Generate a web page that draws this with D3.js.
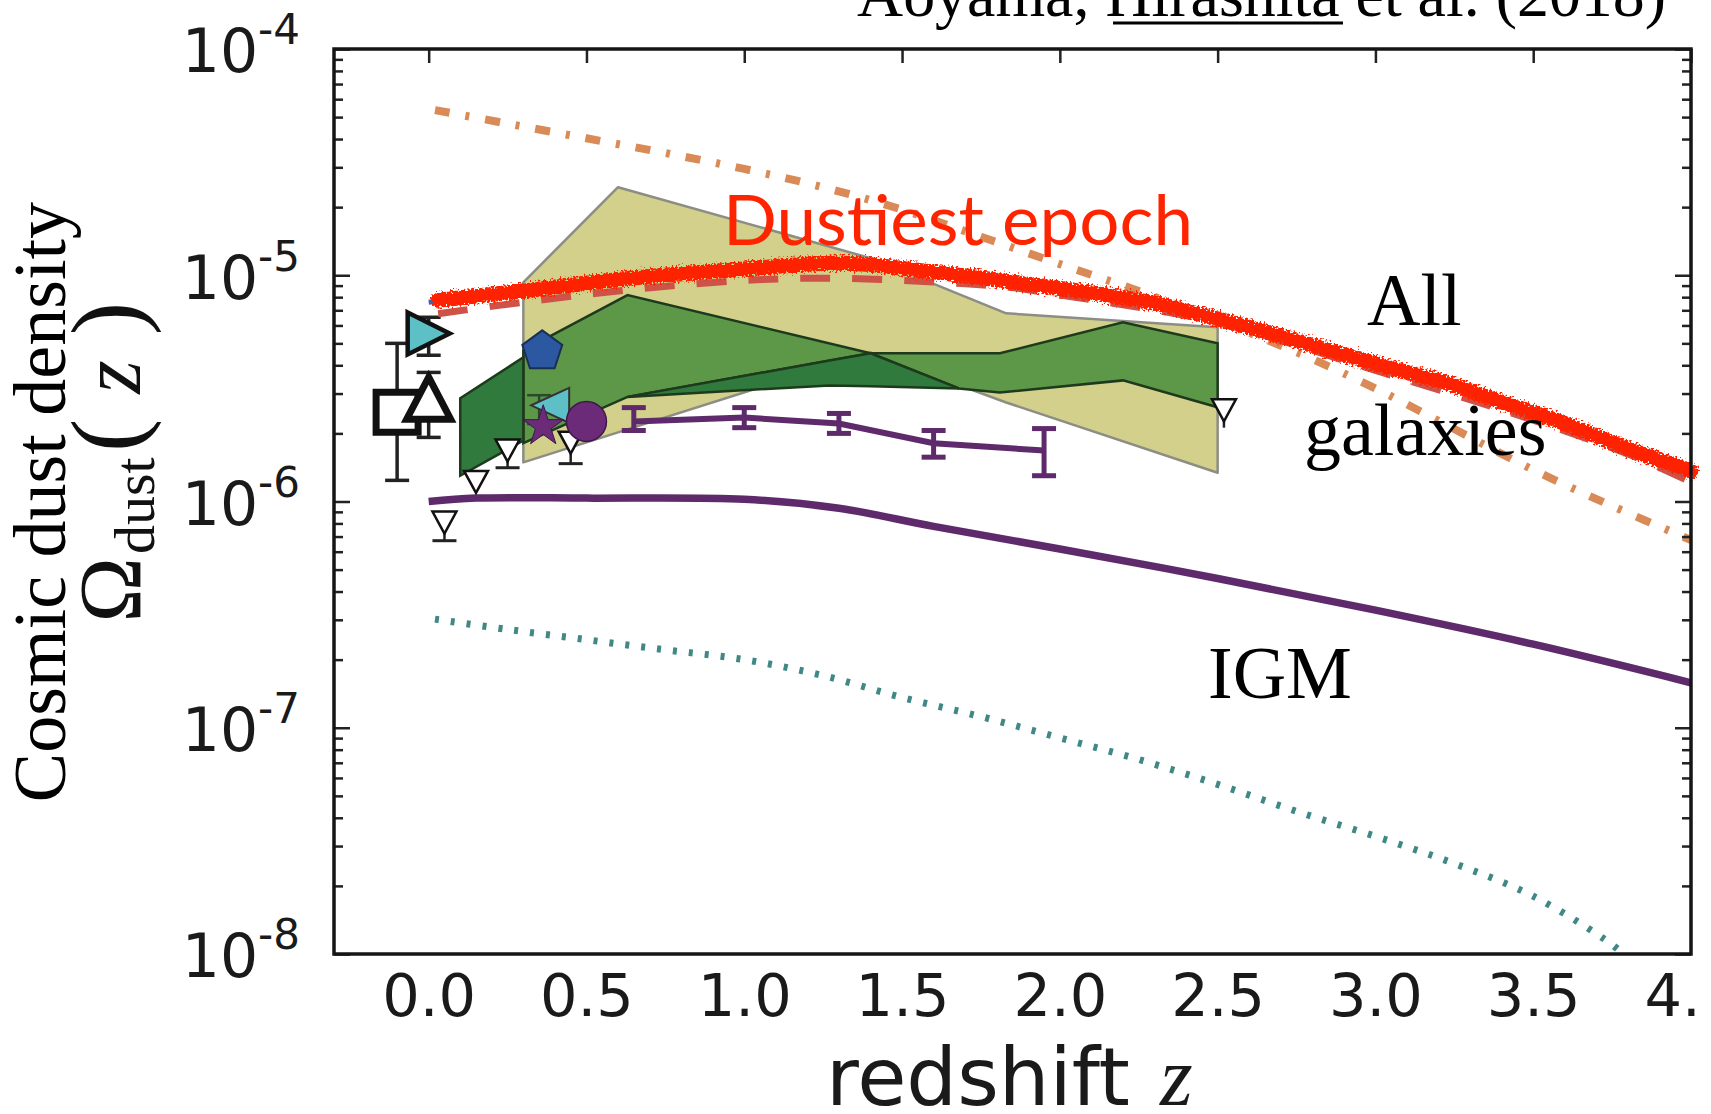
<!DOCTYPE html>
<html><head><meta charset="utf-8">
<script src="https://cdn.jsdelivr.net/npm/d3@7"></script>
<style>
html,body{margin:0;padding:0;background:#fff;}
svg{display:block;}
</style></head><body>
<svg id="chart" width="1711" height="1114"></svg>
<script>
// ---------- axis ticks ----------
const xTicks = [0, 0.5, 1, 1.5, 2, 2.5, 3, 3.5, 4];
const xTickLabels = ["0.0", "0.5", "1.0", "1.5", "2.0", "2.5", "3.0", "3.5", "4.0"];
const yMajor = [1e-8, 1e-7, 1e-6, 1e-5, 1e-4];
const yExponents = ["-8", "-7", "-6", "-5", "-4"];

// ---------- model curves ----------
const orangeZ = [0.02, 0.25, 0.5, 0.75, 1.0, 1.25, 1.5, 1.75, 2.0, 2.25, 2.5, 2.75, 3.0, 3.25, 3.5, 3.75, 4.0];
const orangeV = [5.37e-5, 4.68e-5, 4.03e-5, 3.47e-5, 2.95e-5, 2.45e-5, 1.95e-5, 1.48e-5, 1.12e-5, 8.51e-6, 6.31e-6, 4.57e-6, 3.16e-6, 2.09e-6, 1.38e-6, 9.55e-7, 6.76e-7];

const blueZ = [0.0, 0.5, 1.0, 1.4, 2.0, 2.5, 3.0, 3.5, 4.0];
const blueV = [7.59e-6, 9.12e-6, 1.06e-5, 1.11e-5, 8.71e-6, 6.46e-6, 4.07e-6, 2.45e-6, 1.35e-6];

const redDashZ = [0.03, 0.35, 0.72, 1.04, 1.3, 1.6, 1.84, 2.0, 2.17, 2.5, 3.0, 3.5, 3.8, 4.0];
const redDashV = [6.76e-6, 7.76e-6, 8.85e-6, 9.55e-6, 9.70e-6, 9.33e-6, 8.85e-6, 8.17e-6, 7.52e-6, 6.17e-6, 3.80e-6, 2.29e-6, 1.62e-6, 1.22e-6];

const epochZ = [0.03, 0.32, 0.64, 0.95, 1.27, 1.4, 1.55, 1.74, 1.92, 2.11, 2.3, 2.48, 2.67, 2.85, 3.04, 3.23, 3.41, 3.6, 3.79, 3.97, 4.0];
const epochV = [7.76e-6, 8.59e-6, 9.70e-6, 1.052e-5, 1.130e-5, 1.114e-5, 1.052e-5, 9.79e-6, 9.04e-6, 8.32e-6, 7.52e-6, 6.52e-6, 5.53e-6, 4.68e-6, 3.92e-6, 3.33e-6, 2.72e-6, 2.21e-6, 1.73e-6, 1.41e-6, 1.36e-6];

const igmZ = [0.0, 0.15, 0.5, 1.0, 1.3, 1.6, 2.0, 2.5, 3.0, 3.5, 4.0];
const igmV = [1.0e-6, 1.035e-6, 1.035e-6, 1.023e-6, 9.33e-7, 7.76e-7, 6.17e-7, 4.57e-7, 3.31e-7, 2.34e-7, 1.58e-7];

const tealZ = [0.02, 0.25, 0.5, 0.75, 1.0, 1.25, 1.5, 1.75, 2.0, 2.25, 2.5, 2.75, 3.0, 3.25, 3.5, 3.75, 3.8];
const tealV = [3.02e-7, 2.72e-7, 2.45e-7, 2.21e-7, 2.0e-7, 1.70e-7, 1.36e-7, 1.12e-7, 9.02e-8, 7.24e-8, 5.62e-8, 4.27e-8, 3.31e-8, 2.51e-8, 1.80e-8, 1.10e-8, 9.55e-9];

// ---------- observational bands ----------
const khakiZ = [0.3, 0.6, 1.4, 1.83, 2.5];
const khakiHi = [9.31e-6, 2.45e-5, 1.19e-5, 6.79e-6, 5.89e-6];
const khakiLo = [1.49e-6, 2.02e-6, 4.56e-6, 2.74e-6, 1.34e-6];

const gLeftZ = [0.1, 0.3];
const gLeftHi = [2.86e-6, 4.34e-6];
const gLeftLo = [1.30e-6, 1.86e-6];

const gMidZ = [0.3, 0.63, 1.4];
const gMidHi = [4.66e-6, 8.17e-6, 4.52e-6];
const gMidLo = [1.81e-6, 2.90e-6, 4.52e-6];

const gWedgeZ = [0.63, 1.27, 1.4, 1.68];
const gWedgeHi = [2.90e-6, 4.20e-6, 4.52e-6, 3.16e-6];
const gWedgeLo = [2.90e-6, 3.26e-6, 3.23e-6, 3.16e-6];

const gRightZ = [1.4, 1.68, 1.81, 2.2, 2.5];
const gRightHi = [4.52e-6, 4.52e-6, 4.52e-6, 6.19e-6, 5.0e-6];
const gRightLo = [4.52e-6, 3.16e-6, 3.03e-6, 3.43e-6, 2.61e-6];

// ---------- observational points ----------
const mfZ = [0.65, 1.0, 1.3, 1.6, 1.95];
const mfV = [2.26e-6, 2.35e-6, 2.21e-6, 1.81e-6, 1.68e-6];
const mfLo = [2.06e-6, 2.12e-6, 2.0e-6, 1.57e-6, 1.30e-6];
const mfHi = [2.6e-6, 2.6e-6, 2.45e-6, 2.06e-6, 2.10e-6];

const squareZ = [-0.10], squareV = [2.48e-6], squareLo = [1.24e-6], squareHi = [5.0e-6];
const triUpZ = [0.0], triUpV = [2.86e-6], triUpLo = [1.92e-6], triUpHi = [3.72e-6];
const triRightZ = [0.0], triRightV = [5.53e-6], triRightLo = [4.43e-6], triRightHi = [6.52e-6];
const pentZ = [0.36], pentV = [4.61e-6];
const triLeftZ = [0.385], triLeftV = [2.66e-6], triLeftLo = [2.2e-6], triLeftHi = [2.95e-6];
const starZ = [0.363], starV = [2.15e-6];
const circleZ = [0.5], circleV = [2.26e-6];
const limZ = [0.05, 0.15, 0.25, 0.45, 2.52];
const limV = [8.07e-7, 1.22e-6, 1.68e-6, 1.82e-6, 2.53e-6];
const limLo = [6.71e-7, null, 1.41e-6, 1.47e-6, 2.12e-6];

// ---------- scales ----------
const svg = d3.select("#chart");
const X0 = 334, X1 = 1691, Y0 = 49, Y1 = 954;
const x = d3.scaleLinear().domain([-0.3, 4.0]).range([X0, X1]);
const y = d3.scaleLog().domain([1e-8, 1e-4]).range([Y1, Y0]);

const zip = (zs, vs) => zs.map((z, i) => [z, vs[i]]);
const band = (zs, hi, lo) => zs.map((z, i) => ({z, hi: hi[i], lo: lo[i]}));

const defs = svg.append("defs");
defs.append("clipPath").attr("id", "plotClip")
  .append("rect").attr("x", X0).attr("y", Y0).attr("width", X1 - X0).attr("height", Y1 - Y0);
defs.append("clipPath").attr("id", "labelClip")
  .append("rect").attr("x", 0).attr("y", 0).attr("width", 1700).attr("height", 1114);
const rough = defs.append("filter").attr("id", "rough")
  .attr("x", "-5%").attr("y", "-40%").attr("width", "110%").attr("height", "180%");
rough.append("feTurbulence").attr("type", "fractalNoise").attr("baseFrequency", "0.5")
  .attr("numOctaves", 2).attr("seed", 7).attr("result", "noise");
rough.append("feDisplacementMap").attr("in", "SourceGraphic").attr("in2", "noise")
  .attr("scale", 11).attr("xChannelSelector", "R").attr("yChannelSelector", "G");

const plot = svg.append("g").attr("clip-path", "url(#plotClip)");

const area = d3.area().x(d => x(d.z)).y0(d => y(d.lo)).y1(d => y(d.hi));
const smooth = d3.line().x(d => x(d[0])).y(d => y(d[1])).curve(d3.curveCatmullRom.alpha(0.5));
const straight = d3.line().x(d => x(d[0])).y(d => y(d[1]));

// shaded bands
plot.append("path").attr("d", area(band(khakiZ, khakiHi, khakiLo)))
  .attr("fill", "#d3d08c").attr("stroke", "#8c8d84").attr("stroke-width", 2.5).attr("stroke-linejoin", "round");
plot.append("path").attr("d", area(band(gMidZ, gMidHi, gMidLo)))
  .attr("fill", "#5d9748").attr("stroke", "#1e3a1c").attr("stroke-width", 2.5);
plot.append("path").attr("d", area(band(gRightZ, gRightHi, gRightLo)))
  .attr("fill", "#5d9748").attr("stroke", "#1e3a1c").attr("stroke-width", 2.5);
plot.append("path").attr("d", area(band(gWedgeZ, gWedgeHi, gWedgeLo)))
  .attr("fill", "#2f7a3c").attr("stroke", "#1e3a1c").attr("stroke-width", 2.5);
plot.append("path").attr("d", area(band(gLeftZ, gLeftHi, gLeftLo)))
  .attr("fill", "#2f7a3c").attr("stroke", "#1e3a1c").attr("stroke-width", 2.5);

// model curves
const purple = "#5e2a6c";
plot.append("path").attr("d", smooth(zip(igmZ, igmV)))
  .attr("fill", "none").attr("stroke", purple).attr("stroke-width", 7.5);
plot.append("path").attr("d", smooth(zip(tealZ, tealV)))
  .attr("fill", "none").attr("stroke", "#3f8886").attr("stroke-width", 7).attr("stroke-dasharray", "4 12");
plot.append("path").attr("d", smooth(zip(orangeZ, orangeV)))
  .attr("fill", "none").attr("stroke", "#d98a56").attr("stroke-width", 8).attr("stroke-dasharray", "15 16 4 16");

// binned points joined by a line, with error bars
const mf = plot.append("g");
mf.append("path").attr("d", straight(zip(mfZ, mfV)))
  .attr("fill", "none").attr("stroke", purple).attr("stroke-width", 6);
mfZ.forEach((z, i) => {
  const cx = x(z);
  mf.append("line").attr("x1", cx).attr("x2", cx).attr("y1", y(mfLo[i])).attr("y2", y(mfHi[i]))
    .attr("stroke", purple).attr("stroke-width", 5);
  [mfLo[i], mfHi[i]].forEach(v => mf.append("line").attr("x1", cx - 12).attr("x2", cx + 12)
    .attr("y1", y(v)).attr("y2", y(v)).attr("stroke", purple).attr("stroke-width", 5));
});

// error bars helper
function errbar(g, z, lo, hi, w, color, sw) {
  const cx = x(z);
  g.append("line").attr("x1", cx).attr("x2", cx).attr("y1", y(lo)).attr("y2", y(hi))
    .attr("stroke", color).attr("stroke-width", sw);
  [lo, hi].forEach(v => g.append("line").attr("x1", cx - w / 2).attr("x2", cx + w / 2)
    .attr("y1", y(v)).attr("y2", y(v)).attr("stroke", color).attr("stroke-width", sw));
}
const tri = (w, h, dir) => {
  if (dir === "up") return `M0,${-h/2}L${w/2},${h/2}L${-w/2},${h/2}Z`;
  if (dir === "down") return `M${-w/2},${-h/2}L${w/2},${-h/2}L0,${h/2}Z`;
  if (dir === "right") return `M${-w/2},${-h/2}L${w/2},0L${-w/2},${h/2}Z`;
  return `M${w/2},${-h/2}L${-w/2},0L${w/2},${h/2}Z`;
};
const pentagon = r => d3.range(5).map(k => {
  const a = -Math.PI / 2 + k * 2 * Math.PI / 5;
  return [r * Math.cos(a), r * Math.sin(a)];
});

const mk = plot.append("g");
// upper limits
limZ.forEach((z, i) => {
  if (limLo[i] !== null) {
    mk.append("line").attr("x1", x(z)).attr("x2", x(z)).attr("y1", y(limV[i])).attr("y2", y(limLo[i]))
      .attr("stroke", "#222").attr("stroke-width", 2.5);
    if (i !== 4) mk.append("line").attr("x1", x(z) - 12).attr("x2", x(z) + 12)
      .attr("y1", y(limLo[i])).attr("y2", y(limLo[i])).attr("stroke", "#222").attr("stroke-width", 3);
  }
  mk.append("path").attr("d", tri(24, 22, "down"))
    .attr("transform", `translate(${x(z)},${y(limV[i])})`)
    .attr("fill", "#fff").attr("stroke", "#111").attr("stroke-width", 2.5).attr("stroke-linejoin", "miter");
});
// open square
errbar(mk, squareZ[0], squareLo[0], squareHi[0], 24, "#222", 3.5);
mk.append("rect").attr("x", x(squareZ[0]) - 21).attr("y", y(squareV[0]) - 20).attr("width", 42).attr("height", 40)
  .attr("fill", "#fff").attr("stroke", "#111").attr("stroke-width", 7);
// open triangle
errbar(mk, triUpZ[0], triUpLo[0], triUpHi[0], 24, "#222", 3.5);
mk.append("path").attr("d", tri(44, 42, "up"))
  .attr("transform", `translate(${x(triUpZ[0])},${y(triUpV[0])})`)
  .attr("fill", "#fff").attr("stroke", "#111").attr("stroke-width", 7).attr("stroke-linejoin", "miter");
// cyan right triangle
errbar(mk, triRightZ[0], triRightLo[0], triRightHi[0], 24, "#222", 3.5);
mk.append("path").attr("d", tri(42, 42, "right"))
  .attr("transform", `translate(${x(triRightZ[0])},${y(triRightV[0])})`)
  .attr("fill", "#5cc0c6").attr("stroke", "#111").attr("stroke-width", 4.5).attr("stroke-linejoin", "miter");
// pentagon
mk.append("path").attr("d", d3.line()(pentagon(21)) + "Z")
  .attr("transform", `translate(${x(pentZ[0])},${y(pentV[0])})`)
  .attr("fill", "#2c58a2").attr("stroke", "#1b2f55").attr("stroke-width", 2);
// cyan left triangle
errbar(mk, 0.35, triLeftLo[0], triLeftHi[0], 24, "#2a4a2a", 2.5);
mk.append("path").attr("d", tri(38, 35, "left"))
  .attr("transform", `translate(${x(triLeftZ[0])},${y(triLeftV[0])})`)
  .attr("fill", "#5cc0c6").attr("stroke", "#333").attr("stroke-width", 2);
// star
mk.append("path").attr("d", d3.symbol(d3.symbolStar, 520)())
  .attr("transform", `translate(${x(starZ[0])},${y(starV[0])})`)
  .attr("fill", "#6b2b78").attr("stroke", "#3d1847").attr("stroke-width", 1);
// filled circle
mk.append("circle").attr("cx", x(circleZ[0])).attr("cy", y(circleV[0])).attr("r", 20)
  .attr("fill", "#6b2b78").attr("stroke", "#3d1847").attr("stroke-width", 1.5);

// total-galaxy curves
plot.append("path").attr("d", smooth(zip(redDashZ, redDashV)))
  .attr("fill", "none").attr("stroke", "#cf5248").attr("stroke-width", 7).attr("stroke-dasharray", "30 22");
plot.append("path").attr("d", smooth(zip(blueZ, blueV)))
  .attr("fill", "none").attr("stroke", "#3c64b4").attr("stroke-width", 5);

// hand-drawn highlight of the dust peak
svg.append("path").attr("d", smooth(zip(epochZ, epochV)))
  .attr("fill", "none").attr("stroke", "#ff2400").attr("stroke-width", 15)
  .attr("stroke-linecap", "round").attr("filter", "url(#rough)");

// ---------- axes ----------
const axes = svg.append("g").attr("font-family", "DejaVu Sans, sans-serif");
const bottom = axes.append("g").attr("transform", `translate(0,${Y1})`).attr("clip-path", "url(#labelClip)")
  .call(d3.axisBottom(x).tickValues(xTicks).tickSizeInner(-14).tickSizeOuter(0).tickPadding(20)
    .tickFormat((d, i) => xTickLabels[i]));
bottom.attr("font-size", 59).attr("font-family", "DejaVu Sans, sans-serif");
axes.append("g").attr("transform", `translate(0,${Y0})`)
  .call(d3.axisTop(x).tickValues(xTicks).tickSizeInner(-14).tickSizeOuter(0).tickFormat(""));

const yMinor = [];
for (let e = -8; e < -4; e++) for (let m = 2; m <= 9; m++) yMinor.push(m * Math.pow(10, e));

const left = axes.append("g").attr("transform", `translate(${X0},0)`)
  .call(d3.axisLeft(y).tickValues(yMajor).tickSizeInner(-16).tickSizeOuter(0).tickPadding(34).tickFormat(""));
axes.append("g").attr("transform", `translate(${X0},0)`)
  .call(d3.axisLeft(y).tickValues(yMinor).tickSizeInner(-9).tickSizeOuter(0).tickFormat(""));
axes.append("g").attr("transform", `translate(${X1},0)`)
  .call(d3.axisRight(y).tickValues(yMajor).tickSizeInner(-16).tickSizeOuter(0).tickFormat(""));
axes.append("g").attr("transform", `translate(${X1},0)`)
  .call(d3.axisRight(y).tickValues(yMinor).tickSizeInner(-9).tickSizeOuter(0).tickFormat(""));

left.attr("font-size", 60).attr("font-family", "DejaVu Sans, sans-serif");
left.selectAll(".tick text").each(function (d, i) {
  const t = d3.select(this).attr("dy", "0.38em").attr("fill", "#1a1a1a");
  t.append("tspan").text("10");
  t.append("tspan").attr("font-size", 42).attr("dy", -28).text(yExponents[i]);
});
axes.selectAll(".domain").remove();
axes.selectAll(".tick line").attr("stroke", "#222").attr("stroke-width", 2.5);
bottom.selectAll(".tick text").attr("fill", "#1a1a1a");

svg.append("rect").attr("x", X0).attr("y", Y0).attr("width", X1 - X0).attr("height", Y1 - Y0)
  .attr("fill", "none").attr("stroke", "#151515").attr("stroke-width", 3.5);

// axis titles
const xt = svg.append("text").attr("x", 826).attr("y", 1105).attr("font-size", 80)
  .attr("font-family", "DejaVu Sans, sans-serif").attr("fill", "#1a1a1a");
xt.append("tspan").text("redshift");
xt.append("tspan").attr("x", 1160).attr("font-family", "Liberation Serif, serif")
  .attr("font-style", "italic").attr("font-size", 84).text("z");

svg.append("text").attr("transform", "translate(65,502) rotate(-90)").attr("text-anchor", "middle")
  .attr("font-family", "Liberation Serif, serif").attr("font-size", 74).attr("fill", "#000")
  .text("Cosmic dust density");

// Omega_dust(z), laid out along the rotated axis
const omG = svg.append("g").attr("transform", "translate(140,464) rotate(-90)")
  .attr("font-family", "Liberation Serif, serif").attr("fill", "#111");
omG.append("text").attr("x", -93).attr("y", 0).attr("text-anchor", "end").attr("font-size", 88).text("Ω");
omG.append("text").attr("x", -90).attr("y", 14).attr("font-size", 58).text("dust");
const zt = omG.append("text").attr("x", 12).attr("y", 0).attr("font-size", 100)
  .attr("textLength", 150).attr("lengthAdjust", "spacing");
zt.append("tspan").attr("font-weight", 300).text("(");
zt.append("tspan").attr("font-style", "italic").attr("font-size", 86).text("z");
zt.append("tspan").attr("font-weight", 300).text(")");

// annotations
const serif = "Liberation Serif, serif";
const title = svg.append("text").attr("x", 857).attr("y", 16).attr("font-family", serif)
  .attr("font-size", 64).attr("fill", "#000").attr("textLength", 809).attr("lengthAdjust", "spacingAndGlyphs");
title.append("tspan").text("Aoyama, ");
title.append("tspan").text("Hirashita");
title.append("tspan").text(" et al. (2018)");
svg.append("line").attr("x1", 1113).attr("x2", 1343).attr("y1", 23).attr("y2", 23)
  .attr("stroke", "#000").attr("stroke-width", 3);

svg.append("text").attr("x", 723).attr("y", 245).attr("font-family", "Lato, sans-serif")
  .attr("font-size", 70).attr("fill", "#ff2400").attr("textLength", 470).attr("lengthAdjust", "spacingAndGlyphs")
  .text("Dustiest epoch");
svg.append("text").attr("x", 1367).attr("y", 325).attr("font-family", serif).attr("font-size", 74).text("All");
svg.append("text").attr("x", 1304).attr("y", 455).attr("font-family", serif).attr("font-size", 74).text("galaxies");
svg.append("text").attr("x", 1208).attr("y", 698).attr("font-family", serif).attr("font-size", 74).text("IGM");
</script>
</body></html>
